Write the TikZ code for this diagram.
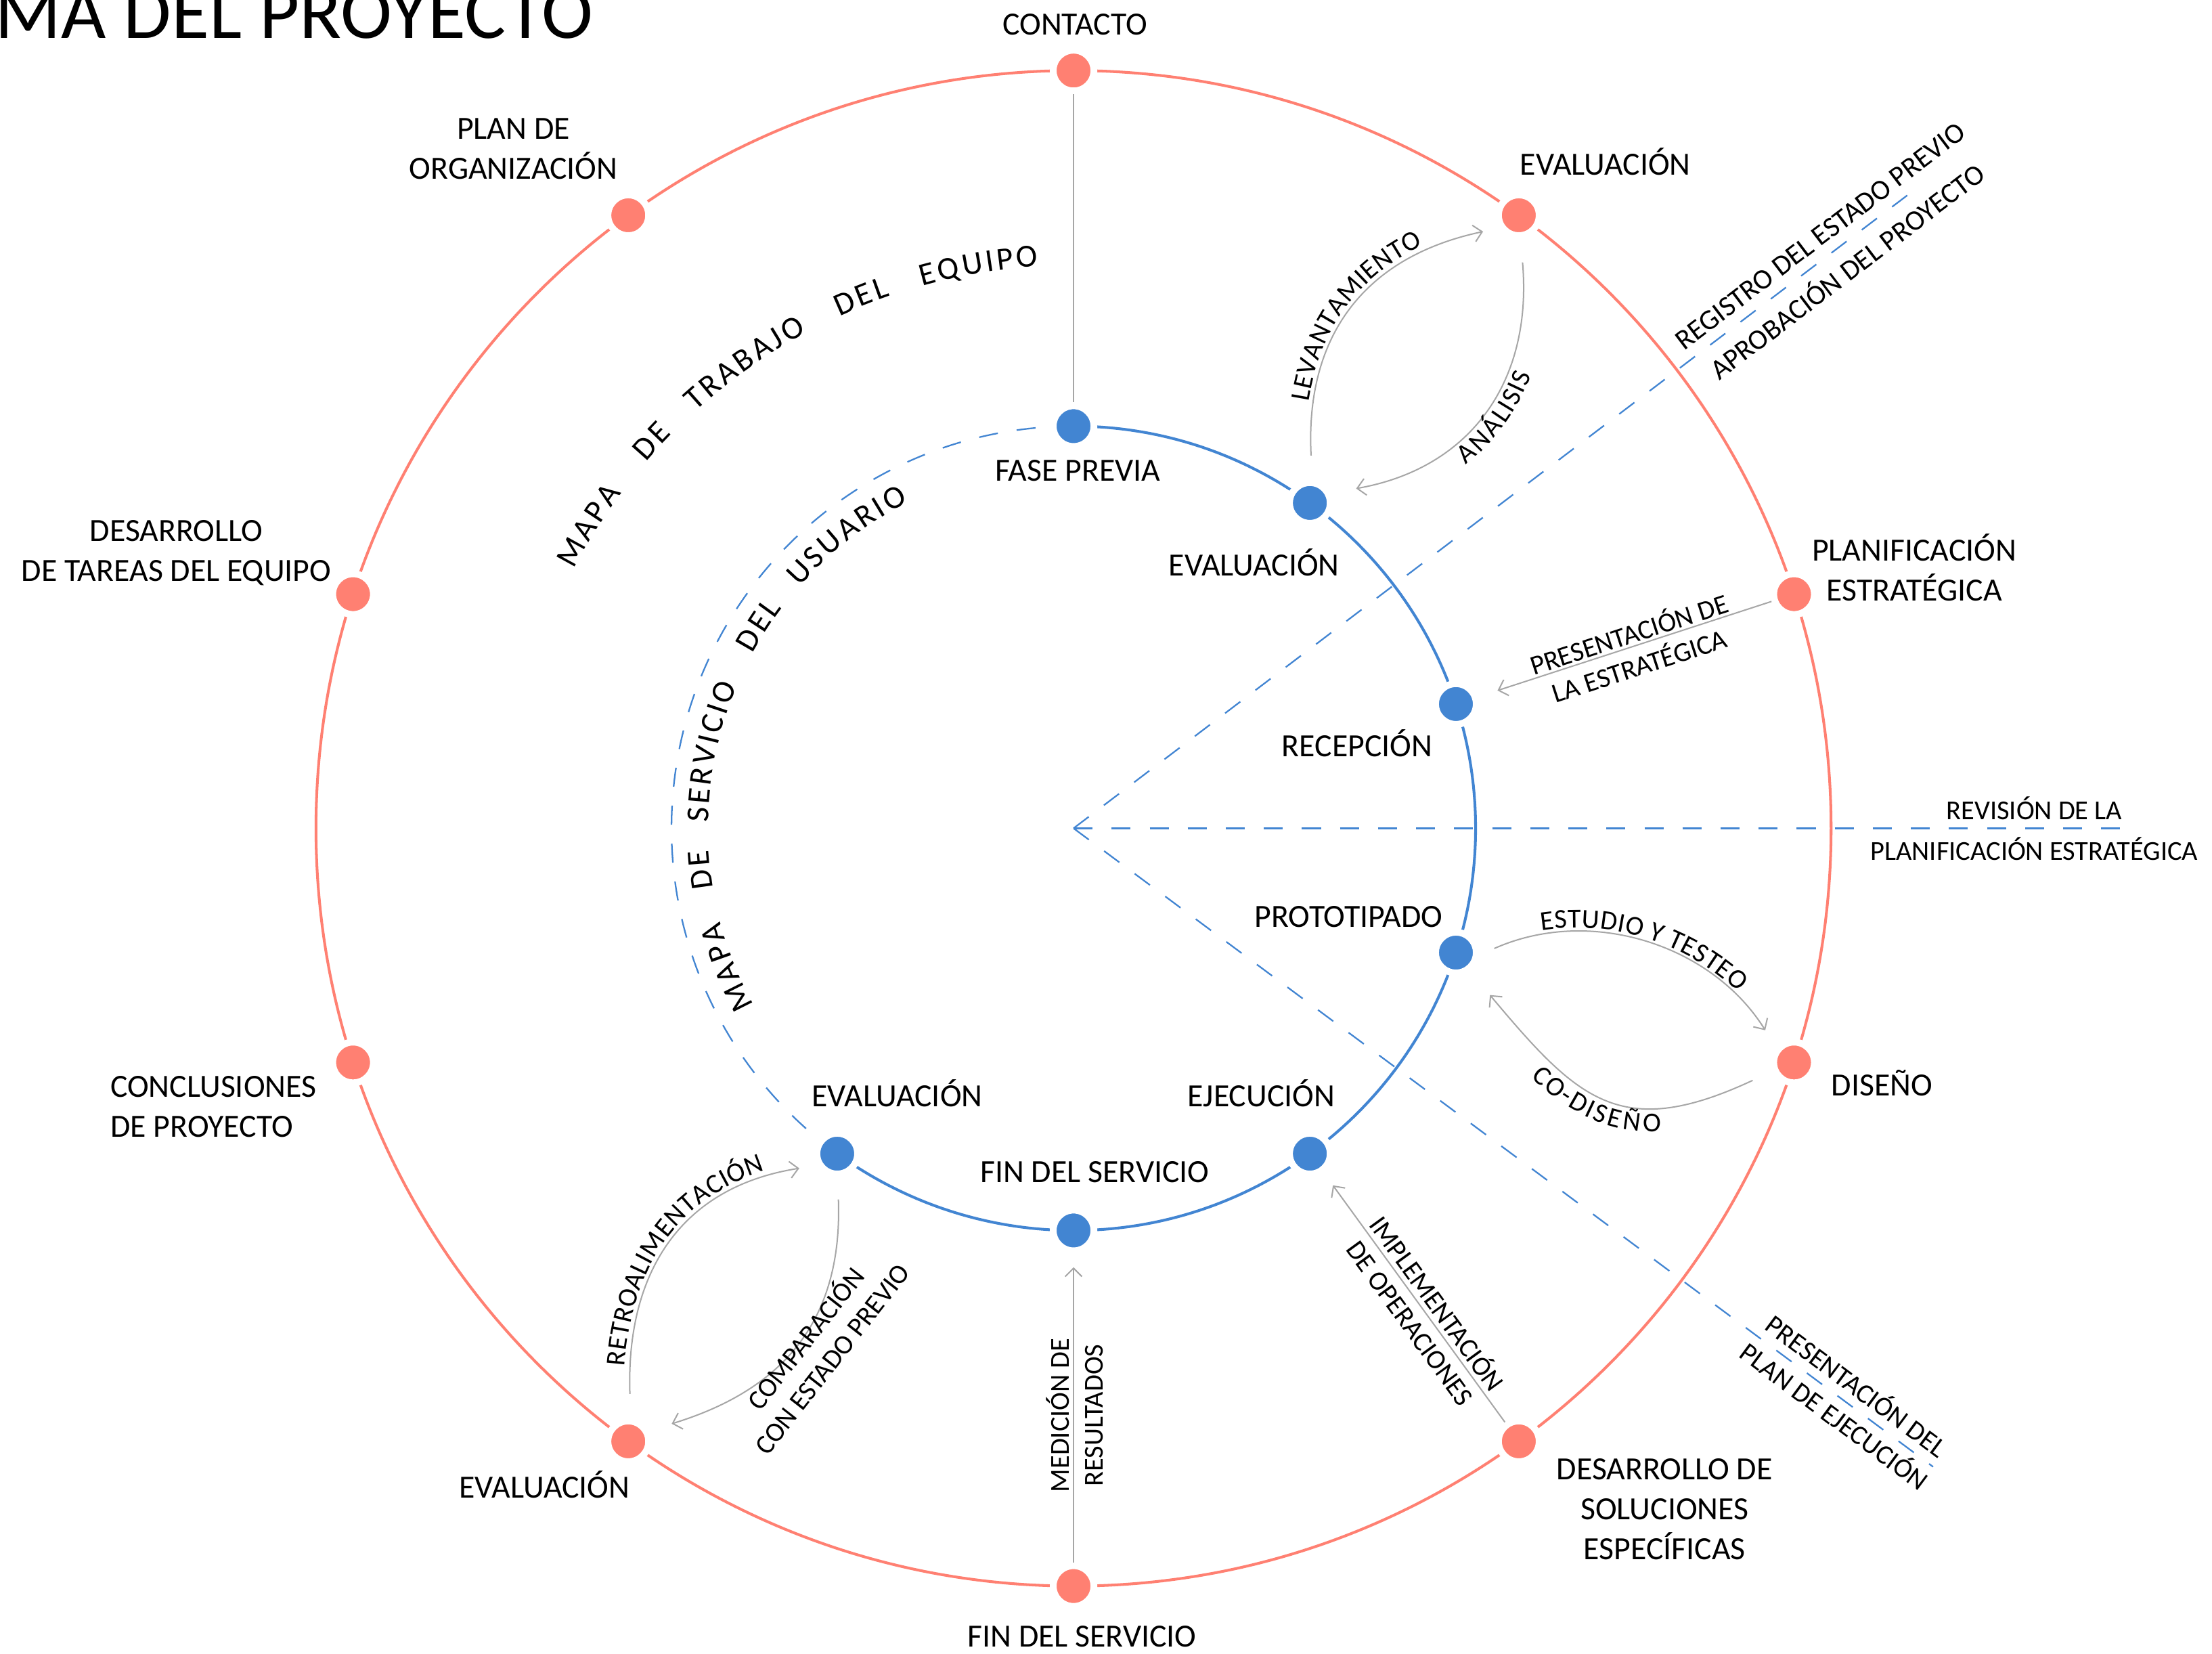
\documentclass[tikz,border=0pt]{standalone}
\usepackage{fontspec}
\setmainfont{Carlito}
\usetikzlibrary{arrows.meta,decorations.text,calc}
\definecolor{redc}{RGB}{255,128,114}
\definecolor{bluec}{RGB}{66,133,210}
\definecolor{grayc}{RGB}{166,166,166}
\newcommand{\labfont}{\fontsize{13.6}{16.8}\selectfont}
\newcommand{\clabfont}{\fontsize{11.5}{14}\selectfont}
\newcommand{\arcfont}{\fontsize{13.5}{16}\selectfont}
\begin{document}
\begin{tikzpicture}[x=0.020842cm, y=0.020842cm,
  redline/.style={draw=redc, line width=1.15pt},
  blueline/.style={draw=bluec, line width=1.15pt},
  bluedash/.style={draw=bluec, line width=0.65pt, dash pattern=on 8pt off 8pt},
  odot/.style={circle, fill=redc, draw=white, line width=2.85pt, minimum size=17.1pt, inner sep=0pt},
  idot/.style={odot, fill=bluec},
  gline/.style={draw=grayc, line width=0.57pt},
  gconn/.style={gline, -{Straight Barb[length=3.5pt,width=7pt]}},
  lab/.style={font=\labfont, inner sep=0pt, align=center},
  clab/.style={font=\clabfont, inner sep=0pt, align=center},
  arctext/.style={decorate, decoration={text along path, text={|\arcfont|#1}, text align=fit to path}},
  curvlab/.style 2 args={decorate, decoration={text along path, text={|\clabfont|#1}, text align=center, raise=#2}}
]
\fill[white] (-761,-585) rectangle (807,587);
\useasboundingbox (-761,-585) rectangle (807,587);
\coordinate (c) at (0,0);

% title
\node[anchor=base east, font=\fontsize{32.6}{36}\selectfont, inner sep=0pt] (title) at (-340,559.8) {MA DEL PROYECTO};

% circles
\draw[redline] (c) circle[radius=537];
\draw[bluedash] (90:285) arc[start angle=90, end angle=234, radius=285];
\draw[blueline] (90:285) arc[start angle=90, end angle=-126, radius=285];

% dashed rays
\coordinate (e1) at (37.2:755);
\coordinate (e2) at (0:751);
\coordinate (e3) at (-36.6:759);
\draw[bluedash] (c) -- (e1);
\draw[bluedash] (c) -- (e2);
\draw[bluedash] (c) -- (e3);

% dots
\foreach \a/\n in {90/o90,54/o54,18/o18,-18/om18,-54/om54,-90/om90,-126/om126,-162/om162,162/o162,126/o126}
  \node[odot] (\n) at (\a:537) {};
\foreach \a/\n in {90/i90,54/i54,18/i18,-18/im18,-54/im54,-90/im90,-126/im126}
  \node[idot] (\n) at (\a:285) {};

% outer labels
\node[lab, anchor=base] (lcont) at (1,562.2) {CONTACTO};
\node[lab] (lplan) at (-397,481.5) {PLAN DE\\ORGANIZACIÓN};
\node[lab] (ldes) at (-636,195) {DESARROLLO\\DE TAREAS DEL EQUIPO};
\node[lab, align=left, anchor=west] (lconc) at (-683,-197.5) {CONCLUSIONES\\DE PROYECTO};
\node[lab, anchor=base] (levo1) at (-375,-474.5) {EVALUACIÓN};
\node[lab, anchor=base] (lfin1) at (6,-580) {FIN DEL SERVICIO};
\node[lab] (lsol) at (419,-482.5) {DESARROLLO DE\\SOLUCIONES\\ESPECÍFICAS};
\node[lab, anchor=base] (ldis) at (573,-189.6) {DISEÑO};
\node[lab] (lplanif) at (596,185) {PLANIFICACIÓN\\ESTRATÉGICA};
\node[lab, anchor=base] (levo2) at (377,463) {EVALUACIÓN};

% inner labels
\node[lab, anchor=base] (lfase) at (3,246.3) {FASE PREVIA};
\node[lab, anchor=base] (lie1) at (128,179) {EVALUACIÓN};
\node[lab, anchor=base] (lrec) at (201,51) {RECEPCIÓN};
\node[lab, anchor=base] (lproto) at (195,-70) {PROTOTIPADO};
\node[lab, anchor=base] (lejec) at (133,-197) {EJECUCIÓN};
\node[lab, anchor=base] (lifin) at (15,-251) {FIN DEL SERVICIO};
\node[lab, anchor=base] (lie2) at (-125,-197.3) {EVALUACIÓN};

% dashed-ray labels
\node[clab, font=\fontsize{12}{19}\selectfont, rotate=37.2] (lreg) at (539,407) {REGISTRO DEL ESTADO PREVIO\\APROBACIÓN DEL PROYECTO};
\node[clab, font=\fontsize{11.5}{17}\selectfont] (lrev) at (681,-0.3) {REVISIÓN DE LA\\PLANIFICACIÓN ESTRATÉGICA};
\node[clab, font=\fontsize{11.5}{15.7}\selectfont, rotate=-36.6] (lpplan) at (547.8,-405) {PRESENTACIÓN DEL\\PLAN DE EJECUCIÓN};

% connectors
\draw[gline] (o90) -- (i90);

\draw[gconn, shorten <=10pt, shorten >=6.8pt] (i54.84) to[out=93, in=192, looseness=1.15] (o54.213);
\path[curvlab={LEVANTAMIENTO}{3pt}] (i54.84) to[out=93, in=192, looseness=1.15] (o54.213);

\draw[gconn, shorten <=9.9pt, shorten >=10.6pt] (o54.274) to[out=275, in=10, looseness=1.15] (i54.25);
\path[curvlab={ANÁLISIS}{-11pt}] (i54.25) to[out=10, in=275, looseness=1.15] (o54.274);

\draw[gconn, shorten >=8.4pt] (o18) -- (i18);
\node[clab, rotate=18] (lpres) at (397,127.4) {PRESENTACIÓN DE\\LA ESTRATÉGICA};

\draw[gconn, shorten <=6.8pt, shorten >=8.4pt] (im18.354) to[out=24, in=122] (om18.140);
\path[curvlab={ESTUDIO Y TESTEO}{2.5pt}] (im18.354) to[out=24, in=122] (om18.140);

\draw[gconn, shorten <=9pt, shorten >=12.9pt] (om18.202) to[out=205, in=310, looseness=1.35] (im18.307);
\path[curvlab={CO-DISEÑO}{-11pt}] (im18.307) to[out=310, in=205, looseness=1.35] (om18.202);

\draw[gconn, shorten >=6.5pt] (om54) -- (im54);
\node[clab, rotate=-54] (limpl) at (249.2,-343) {IMPLEMENTACIÓN\\DE OPERACIONES};

\draw[gconn, shorten >=5.5pt] (om90) -- (im90);
\node[clab, rotate=90] (lmed) at (0.8,-416) {MEDICIÓN DE\\RESULTADOS};

\draw[gconn, shorten <=10pt, shorten >=7.4pt] (om126.84) to[out=92, in=189, looseness=1.15] (im126.210);
\path[curvlab={RETROALIMENTACIÓN}{3pt}] (om126.84) to[out=92, in=189, looseness=1.15] (im126.210);

\draw[gconn, shorten <=9.3pt, shorten >=9.8pt] (im126.271) to[out=272, in=17, looseness=1.15] (om126.27);
\node[clab, rotate=52] (lcomp) at (-181.6,-368) {COMPARACIÓN\\CON ESTADO PREVIO};

% curved titles
\path[arctext=MAPA] (152.57:399) arc[start angle=152.57, end angle=143.43, radius=399];
\path[arctext=DE] (139.40:399) arc[start angle=139.40, end angle=135.50, radius=399];
\path[arctext=TRABAJO] (132.18:399) arc[start angle=132.18, end angle=118.32, radius=399];
\path[arctext=DEL] (114.58:399) arc[start angle=114.58, end angle=109.02, radius=399];
\path[arctext=EQUIPO] (105.62:399) arc[start angle=105.62, end angle=93.58, radius=399];

\path[arctext=MAPA] (208.89:259) arc[start angle=208.89, end angle=194.82, radius=259];
\path[arctext=DE] (189.40:259) arc[start angle=189.40, end angle=183.40, radius=259];
\path[arctext=SERVICIO] (179.06:259) arc[start angle=179.06, end angle=157.05, radius=259];
\path[arctext=DEL] (151.48:259) arc[start angle=151.48, end angle=142.92, radius=259];
\path[arctext=USUARIO] (138.60:259) arc[start angle=138.60, end angle=116.81, radius=259];
\end{tikzpicture}
\end{document}
